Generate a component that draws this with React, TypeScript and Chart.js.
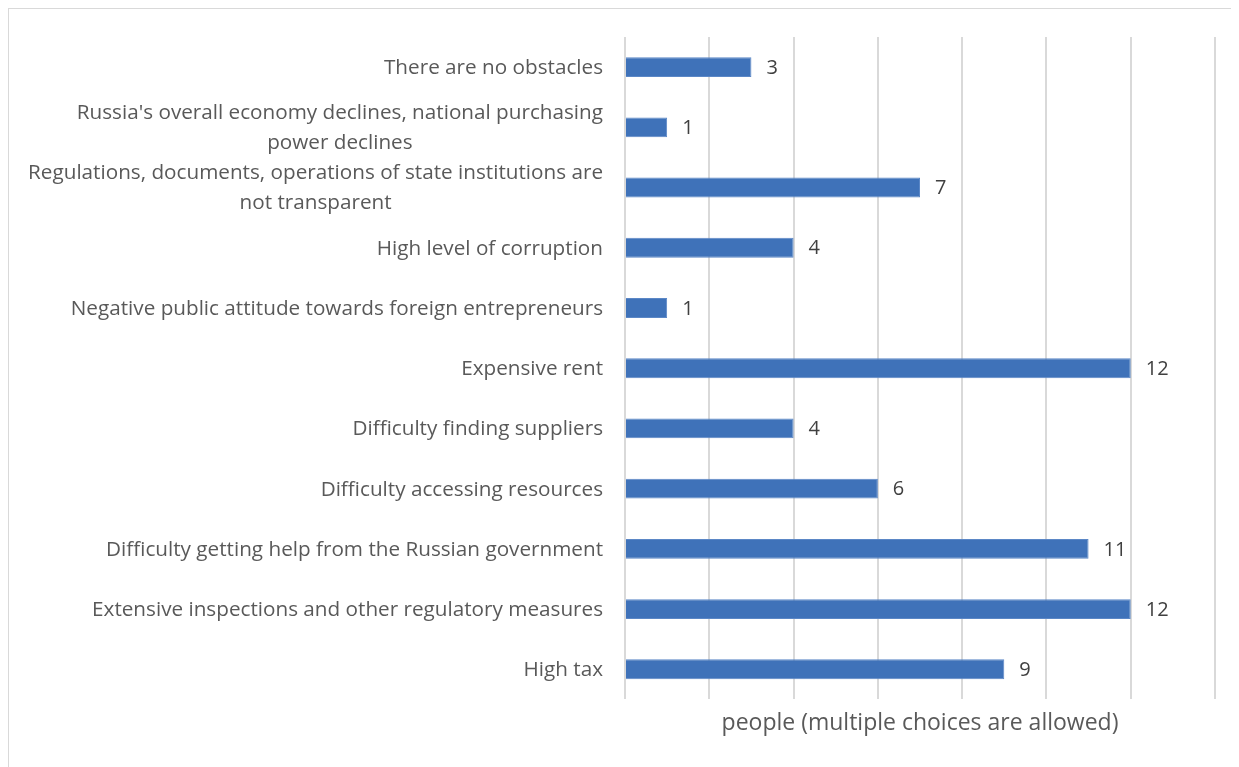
import React, { useEffect, useRef } from "react";
import { Chart, registerables } from "chart.js";

Chart.register(...registerables);

const categories: string[][] = [
  ["There are no obstacles"],
  ["Russia's overall economy declines, national purchasing", "power declines"],
  ["Regulations, documents, operations of state institutions are", "not transparent"],
  ["High level of corruption"],
  ["Negative public attitude towards foreign entrepreneurs"],
  ["Expensive rent"],
  ["Difficulty finding suppliers"],
  ["Difficulty accessing resources"],
  ["Difficulty getting help from the Russian government"],
  ["Extensive inspections and other regulatory measures"],
  ["High tax"],
];
const values: number[] = [3, 1, 7, 4, 1, 12, 4, 6, 11, 12, 9];
const axisTitle = "people (multiple choices are allowed)";
const xMin = 0;
const xMax = 14;
const xStep = 2;

const FONT = "'Open Sans', 'Noto Sans', sans-serif";
const TEXT = "#595959";

const labelsPlugin = {
  id: "customLabels",
  afterDatasetsDraw(chart: any) {
    const { ctx, chartArea } = chart;
    const yScale = chart.scales.y;
    const xScale = chart.scales.x;
    ctx.save();
    ctx.font = `20.7px ${FONT}`;
    ctx.fillStyle = TEXT;
    ctx.textBaseline = "middle";
    ctx.textAlign = "center";
    const rightEdge = chartArea.left - 22;
    categories.forEach((lines, i) => {
      const y = yScale.getPixelForValue(i);
      const w = Math.max(...lines.map((l) => ctx.measureText(l).width));
      const cx = rightEdge - w / 2;
      const lh = 30;
      const y0 = y - ((lines.length - 1) * lh) / 2;
      lines.forEach((l, j) => ctx.fillText(l, cx, y0 + j * lh + 1));
    });
    ctx.font = `20px ${FONT}`;
    ctx.fillStyle = "#404040";
    ctx.textAlign = "left";
    values.forEach((v, i) => {
      const y = yScale.getPixelForValue(i);
      const x = xScale.getPixelForValue(v);
      ctx.fillText(String(v), x + 15, y + 1);
    });
    ctx.restore();
  },
};

export default function App() {
  const ref = useRef<HTMLCanvasElement | null>(null);
  useEffect(() => {
    if (!ref.current) return;
    const chart = new Chart(ref.current, {
      type: "bar",
      data: {
        labels: categories.map((c) => c.join(" ")),
        datasets: [
          {
            data: values,
            backgroundColor: "#3F72B9",
            borderColor: "#5B87C6",
            borderWidth: 1,
            barPercentage: 0.33,
            categoryPercentage: 1,
          },
        ],
      },
      options: {
        indexAxis: "y",
        responsive: false,
        animation: false,
        layout: { padding: { left: 617, right: 24, top: 29, bottom: 30 } },
        plugins: {
          legend: { display: false },
          tooltip: { enabled: false },
        },
        scales: {
          y: { display: false },
          x: {
            min: xMin,
            max: xMax,
            ticks: { display: false, stepSize: xStep },
            grid: { color: "#d9d9d9", lineWidth: 2, drawTicks: false },
            border: { display: false },
            title: {
              display: true,
              text: axisTitle,
              color: TEXT,
              font: { family: FONT, size: 23 },
              padding: { top: 10, bottom: 0 },
            },
          },
        },
      },
      plugins: [labelsPlugin],
    });
    return () => chart.destroy();
  }, []);
  return (
    <div style={{ position: "relative" }}>
      <canvas ref={ref} width={1231} height={759} style={{ display: "block" }} />
      <div
        style={{
          position: "absolute",
          left: -1,
          top: -1,
          width: 1229,
          height: 758,
          borderLeft: "2px solid #d9d9d9",
          borderTop: "2px solid #d9d9d9",
          pointerEvents: "none",
        }}
      />
    </div>
  );
}
